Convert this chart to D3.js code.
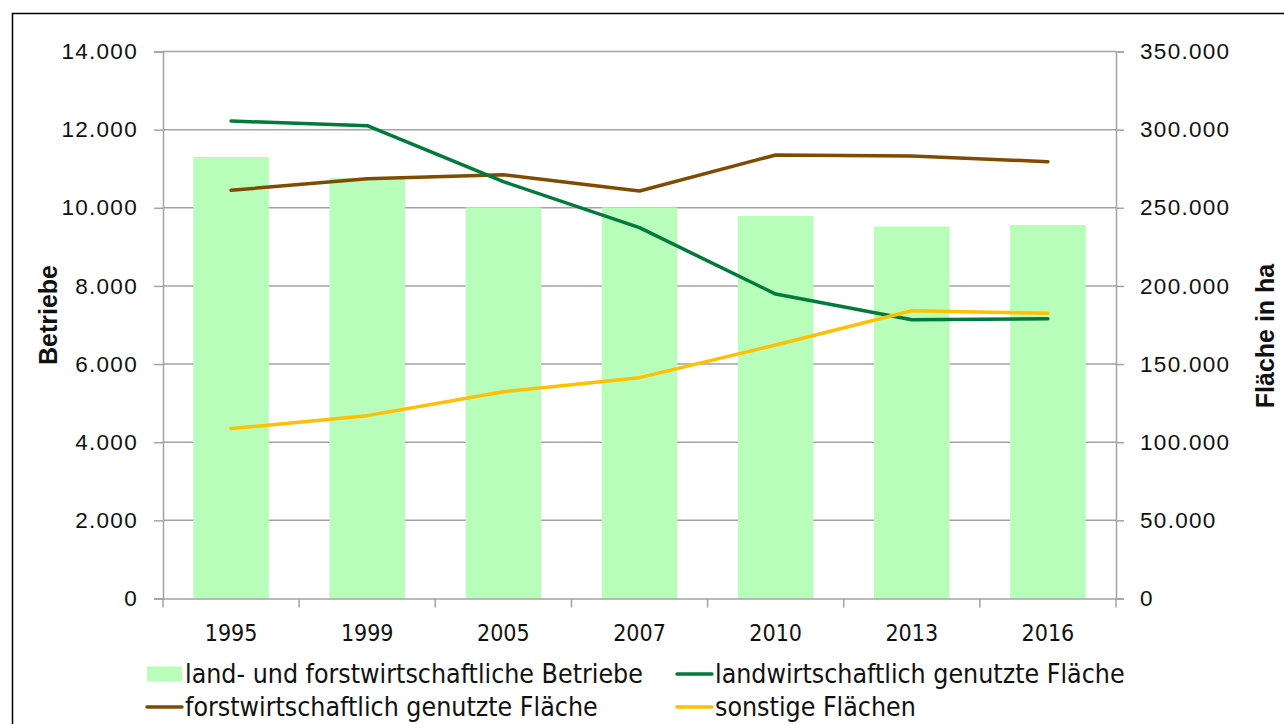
<!DOCTYPE html>
<html>
<head>
<meta charset="utf-8">
<script src="https://cdn.jsdelivr.net/npm/d3@7"></script>
<style>
  html, body { margin: 0; padding: 0; background: #fff; }
  svg { display: block; }
</style>
</head>
<body>
<div id="chart"></div>
<script>
const years = ["1995", "1999", "2005", "2007", "2010", "2013", "2016"];
const betriebe = [11300, 10760, 10010, 10010, 9790, 9520, 9560];
const landwFlaeche = [305500, 302500, 266700, 237300, 194800, 178300, 179000];
const forstFlaeche = [261200, 268600, 271200, 260700, 283800, 283100, 279500];
const sonstigeFlaeche = [108700, 117000, 132300, 141300, 162200, 184100, 182500];
const leftTicks = [0, 2000, 4000, 6000, 8000, 10000, 12000, 14000];
const rightTicks = [0, 50000, 100000, 150000, 200000, 250000, 300000, 350000];

const width = 1284;
const height = 724;
const plot = { left: 163, right: 1116, top: 51.5, bottom: 598.5 };

const de = d3.formatLocale({ decimal: ",", thousands: ".", grouping: [3], currency: ["", " €"] });
const fmt = de.format(",d");

const numFont = "'Liberation Sans', Arial, sans-serif";
const condFont = "'DejaVu Sans Condensed', 'DejaVu Sans', sans-serif";
const gridColor = "#a3a3a3";

const svg = d3.select("#chart").append("svg")
  .attr("width", width)
  .attr("height", height);

// outer frame
svg.append("rect")
  .attr("x", 12.5).attr("y", 13.5)
  .attr("width", width).attr("height", height)
  .attr("fill", "none").attr("stroke", "#000").attr("stroke-width", 1.5);

const x = d3.scaleBand().domain(years).range([plot.left, plot.right]).paddingInner(0).paddingOuter(0);
const yLeft = d3.scaleLinear().domain([0, 14000]).range([plot.bottom, plot.top]);
const yRight = d3.scaleLinear().domain([0, 350000]).range([plot.bottom, plot.top]);

// gridlines
svg.append("g").selectAll("line")
  .data(leftTicks.filter(d => d > 0))
  .join("line")
  .attr("x1", plot.left).attr("x2", plot.right)
  .attr("y1", d => yLeft(d)).attr("y2", d => yLeft(d))
  .attr("stroke", gridColor).attr("stroke-width", 1.5);

// bars
const barW = x.bandwidth() * 0.555;
svg.append("g").selectAll("rect")
  .data(years)
  .join("rect")
  .attr("x", (d) => x(d) + (x.bandwidth() - barW) / 2)
  .attr("width", barW)
  .attr("y", (d, i) => yLeft(betriebe[i]))
  .attr("height", (d, i) => plot.bottom - yLeft(betriebe[i]))
  .attr("fill", "#b8fdba");

// axes
const leftAxis = svg.append("g")
  .attr("transform", `translate(${plot.left},0)`)
  .call(d3.axisLeft(yLeft).tickValues(leftTicks).tickFormat(fmt).tickSize(9).tickPadding(16));
const rightAxis = svg.append("g")
  .attr("transform", `translate(${plot.right},0)`)
  .call(d3.axisRight(yRight).tickValues(rightTicks).tickFormat(fmt).tickSize(8).tickPadding(16));
const bottomAxis = svg.append("g")
  .attr("transform", `translate(0,${plot.bottom})`)
  .call(d3.axisBottom(x).tickSize(0).tickPadding(26));

[leftAxis, rightAxis].forEach(g => {
  g.select(".domain").attr("stroke", gridColor).attr("stroke-width", 1.5);
  g.selectAll(".tick line").attr("stroke", gridColor).attr("stroke-width", 1.5);
  g.selectAll("text")
    .attr("font-family", numFont).attr("font-size", 22.5)
    .attr("letter-spacing", "1.3px").attr("fill", "#111");
});
bottomAxis.select(".domain").attr("stroke", gridColor).attr("stroke-width", 1.5);
bottomAxis.selectAll("text")
  .attr("font-family", condFont).attr("font-size", 23).attr("fill", "#111");

// category boundary ticks
const bounds = years.map(d => x(d)).concat([plot.right]);
svg.append("g").selectAll("line")
  .data(bounds)
  .join("line")
  .attr("x1", d => d).attr("x2", d => d)
  .attr("y1", plot.bottom).attr("y2", plot.bottom + 9)
  .attr("stroke", gridColor).attr("stroke-width", 1.5);

// lines
const series = [
  { name: "landwirtschaftlich genutzte Fläche", values: landwFlaeche, color: "#007a3b" },
  { name: "forstwirtschaftlich genutzte Fläche", values: forstFlaeche, color: "#7f4b00" },
  { name: "sonstige Flächen", values: sonstigeFlaeche, color: "#ffc000" }
];
const line = d3.line()
  .x((d, i) => x(years[i]) + x.bandwidth() / 2)
  .y(d => yRight(d));

svg.append("g").selectAll("path")
  .data([series[1], series[0], series[2]])
  .join("path")
  .attr("d", d => line(d.values))
  .attr("fill", "none")
  .attr("stroke", d => d.color)
  .attr("stroke-width", 3.5)
  .attr("stroke-linejoin", "round")
  .attr("stroke-linecap", "round");

// axis titles
svg.append("text")
  .attr("transform", "translate(57,315) rotate(-90)")
  .attr("text-anchor", "middle")
  .attr("font-family", numFont).attr("font-size", 25).attr("font-weight", "bold")
  .attr("fill", "#111")
  .text("Betriebe");
svg.append("text")
  .attr("transform", "translate(1274,336) rotate(-90)")
  .attr("text-anchor", "middle")
  .attr("font-family", numFont).attr("font-size", 25).attr("font-weight", "bold")
  .attr("fill", "#111")
  .text("Fläche in ha");

// legend
const legendItems = [
  { name: "land- und forstwirtschaftliche Betriebe", type: "bar", color: "#b8fdba", x: 147, y: 674 },
  { name: series[0].name, type: "line", color: series[0].color, x: 677, y: 674 },
  { name: series[1].name, type: "line", color: series[1].color, x: 147, y: 707 },
  { name: series[2].name, type: "line", color: series[2].color, x: 677, y: 707 }
];
const legend = svg.append("g").selectAll("g")
  .data(legendItems)
  .join("g")
  .attr("transform", d => `translate(${d.x},${d.y})`);
legend.filter(d => d.type === "bar").append("rect")
  .attr("x", 0).attr("y", -7.5).attr("width", 35).attr("height", 15)
  .attr("fill", d => d.color);
legend.filter(d => d.type === "line").append("line")
  .attr("x1", 0).attr("x2", 35).attr("y1", 0).attr("y2", 0)
  .attr("stroke", d => d.color).attr("stroke-width", 3.5).attr("stroke-linecap", "round");
legend.append("text")
  .attr("x", 38).attr("y", 0).attr("dy", "0.35em")
  .attr("font-family", condFont).attr("font-size", 26.5).attr("fill", "#111")
  .text(d => d.name);
</script>
</body>
</html>
